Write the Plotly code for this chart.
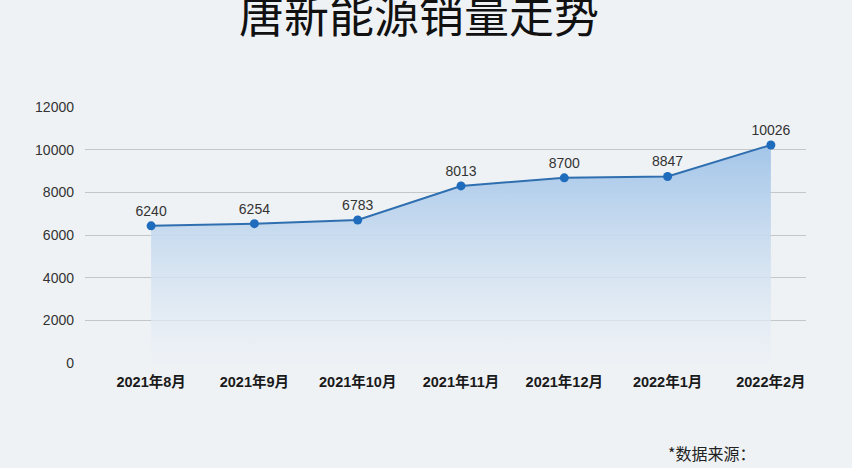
import plotly.graph_objects as go

categories = ["2021年8月", "2021年9月", "2021年10月", "2021年11月", "2021年12月", "2022年1月", "2022年2月"]
plotted_values = [6430, 6530, 6705, 8300, 8680, 8740, 10220]
value_labels = ["6240", "6254", "6783", "8013", "8700", "8847", "10026"]
y_ticks = [0, 2000, 4000, 6000, 8000, 10000, 12000]

title_text = "唐新能源销量走势"
source_text = "*数据来源："

BG = "#eff2f5"
x_idx = list(range(len(categories)))

fig = go.Figure()
fig.add_trace(go.Scatter(
    x=x_idx, y=plotted_values,
    mode="lines+markers+text",
    text=value_labels,
    textposition="top center",
    textfont=dict(family="Liberation Sans, Arial, sans-serif", size=14, color="#333333"),
    line=dict(color="#2f6fb0", width=2),
    marker=dict(color="#1f6cbc", size=9),
    fill="tozeroy",
    fillgradient=dict(
        type="vertical",
        start=0, stop=10300,
        colorscale=[[0, "rgba(236,241,246,0.6)"], [0.5, "rgba(205,222,240,0.9)"], [1, "rgba(163,197,233,1)"]],
    ),
    hoverinfo="skip",
    cliponaxis=False,
))

fig.update_layout(
    width=852, height=468,
    paper_bgcolor=BG, plot_bgcolor=BG,
    margin=dict(l=85, r=46, t=107, b=105),
    showlegend=False,
    xaxis=dict(
        range=[-0.64, 6.34],
        tickmode="array", tickvals=x_idx, ticktext=categories,
        showgrid=False, zeroline=False, showline=False,
        tickfont=dict(family="Liberation Sans, Arial, Noto Sans CJK SC", size=14.5, color="#1a1a1a", weight="bold"),
        ticklabelstandoff=8,
    ),
    yaxis=dict(
        range=[0, 12000],
        tickmode="array", tickvals=y_ticks, ticktext=[str(v) for v in y_ticks],
        showgrid=True, gridcolor="#c4c7ca", gridwidth=1,
        zeroline=False, showline=False,
        tickfont=dict(family="Liberation Sans, Arial, sans-serif", size=14, color="#333333"),
        ticklabelstandoff=10,
    ),
    annotations=[
        dict(text=title_text, xref="paper", yref="paper", x=0.463, y=1.365,
             xanchor="center", yanchor="middle", showarrow=False,
             font=dict(family="Noto Sans CJK SC", size=45, color="#111111")),
        dict(text=source_text, xref="paper", yref="paper", x=0.806, y=-0.35,
             xanchor="left", yanchor="middle", showarrow=False,
             font=dict(family="Noto Sans CJK SC", size=16, color="#222222")),
    ],
)

fig.write_html("out.html", config={"displayModeBar": False},
               post_script="document.body.style.margin='0';document.body.style.background='" + BG + "';")
